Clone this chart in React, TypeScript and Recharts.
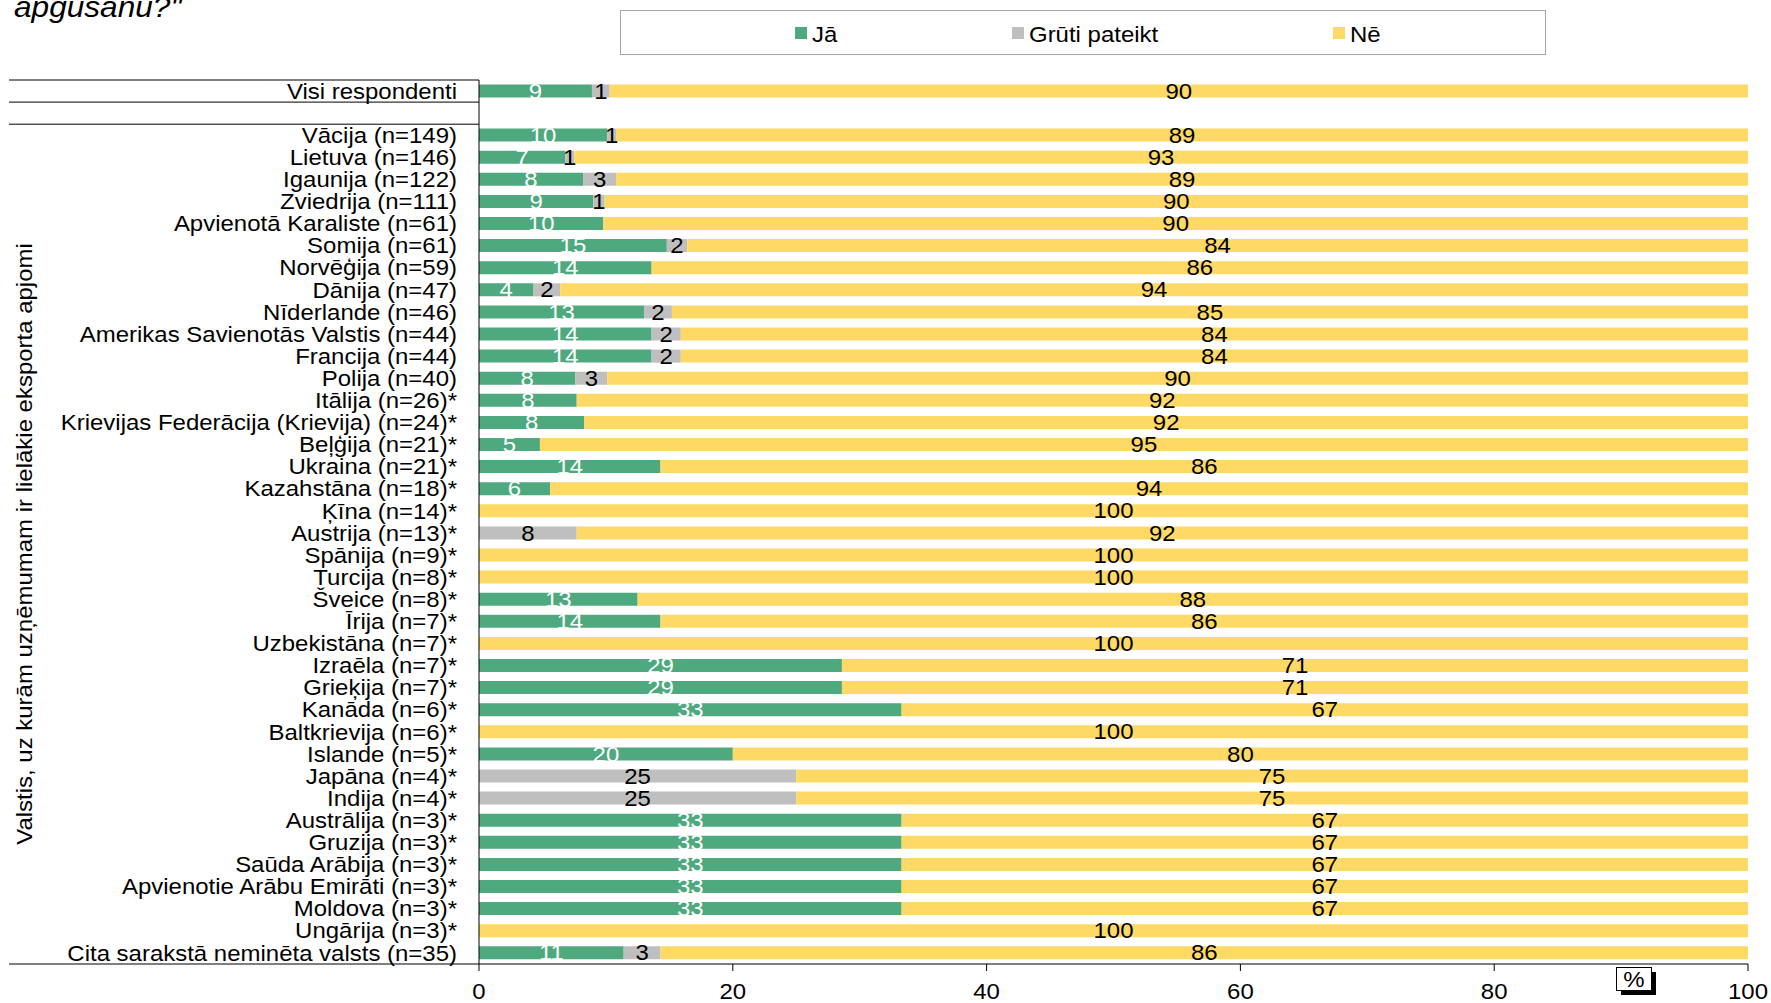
import React from 'react';
import { BarChart, Bar, XAxis, YAxis, LabelList } from 'recharts';

// rows, top to bottom; ' ' is the empty spacer row under "Visi respondenti"
const categories = [
  'Visi respondenti',
  ' ',
  'Vācija (n=149)',
  'Lietuva (n=146)',
  'Igaunija (n=122)',
  'Zviedrija (n=111)',
  'Apvienotā Karaliste (n=61)',
  'Somija (n=61)',
  'Norvēģija (n=59)',
  'Dānija (n=47)',
  'Nīderlande (n=46)',
  'Amerikas Savienotās Valstis (n=44)',
  'Francija (n=44)',
  'Polija (n=40)',
  'Itālija (n=26)*',
  'Krievijas Federācija (Krievija) (n=24)*',
  'Beļģija (n=21)*',
  'Ukraina (n=21)*',
  'Kazahstāna (n=18)*',
  'Ķīna (n=14)*',
  'Austrija (n=13)*',
  'Spānija (n=9)*',
  'Turcija (n=8)*',
  'Šveice (n=8)*',
  'Īrija (n=7)*',
  'Uzbekistāna (n=7)*',
  'Izraēla (n=7)*',
  'Grieķija (n=7)*',
  'Kanāda (n=6)*',
  'Baltkrievija (n=6)*',
  'Islande (n=5)*',
  'Japāna (n=4)*',
  'Indija (n=4)*',
  'Austrālija (n=3)*',
  'Gruzija (n=3)*',
  'Saūda Arābija (n=3)*',
  'Apvienotie Arābu Emirāti (n=3)*',
  'Moldova (n=3)*',
  'Ungārija (n=3)*',
  'Cita sarakstā neminēta valsts (n=35)',
];

const yesValues = [
  8.9, null, 10.1, 6.8, 8.2, 9.0, 9.8, 14.8, 13.6, 4.3, 13.0, 13.6, 13.6, 7.6,
  7.7, 8.3, 4.8, 14.3, 5.6, 0, 0, 0, 0, 12.5, 14.3, 0, 28.6, 28.6, 33.3, 0,
  20, 0, 0, 33.3, 33.3, 33.3, 33.3, 33.3, 0, 11.4,
];

const hardValues = [
  1.4, null, 0.7, 0.7, 2.6, 0.9, 0, 1.6, 0, 2.1, 2.2, 2.3, 2.3, 2.5,
  0, 0, 0, 0, 0, 0, 7.7, 0, 0, 0, 0, 0, 0, 0, 0, 0,
  0, 25, 25, 0, 0, 0, 0, 0, 0, 2.9,
];

const noValues = [
  89.7, null, 89.2, 92.5, 89.2, 90.1, 90.2, 83.6, 86.4, 93.6, 84.8, 84.1, 84.1, 89.9,
  92.3, 91.7, 95.2, 85.7, 94.4, 100, 92.3, 100, 100, 87.5, 85.7, 100, 71.4, 71.4, 66.7, 100,
  80, 75, 75, 66.7, 66.7, 66.7, 66.7, 66.7, 100, 85.7,
];

const xTicks = [0, 20, 40, 60, 80, 100];

const series = [
  { key: 'yes', name: 'Jā', color: '#4EA97E', text: '#FFFFFF', legendX: 795 },
  { key: 'hard', name: 'Grūti pateikt', color: '#BFBFBF', text: '#000000', legendX: 1012 },
  { key: 'no', name: 'Nē', color: '#FFD966', text: '#000000', legendX: 1333 },
];

const rows = categories.map((name, i) => ({
  name,
  yes: yesValues[i],
  hard: hardValues[i],
  no: noValues[i],
}));

const FONT = '"Liberation Sans", Arial, sans-serif';
const FS = 22;
const STRETCH = 1.09; // the source font runs a little wider than Liberation Sans
const W = 1771;
const H = 1003;
const PLOT_TOP = 80;
const PLOT_BOTTOM = 964;
const PLOT_LEFT = 479;
const PLOT_RIGHT = 1748;
const BAND = (PLOT_BOTTOM - PLOT_TOP) / categories.length;

// text widened along its baseline
const WideText = ({ x, y, rotate = 0, size = FS, children, ...rest }: any) => (
  <text
    transform={`translate(${x},${y}) rotate(${rotate}) scale(${STRETCH},1)`}
    fontSize={size}
    fontFamily={FONT}
    {...rest}
  >
    {children}
  </text>
);

const CategoryTick = (props: any) => {
  const { x, y, payload } = props;
  const label = payload.value;
  const top = y - BAND / 2;
  const bottom = y + BAND / 2;
  return (
    <g>
      <WideText x={x} y={y} textAnchor="end" dominantBaseline="central" fill="#000">
        {label}
      </WideText>
      {label === categories[0] && (
        <>
          <line x1={9} x2={PLOT_LEFT} y1={top} y2={top} stroke="#000" />
          <line x1={9} x2={PLOT_LEFT} y1={bottom} y2={bottom} stroke="#000" />
        </>
      )}
      {label === categories[1] && (
        <line x1={9} x2={PLOT_LEFT} y1={bottom} y2={bottom} stroke="#000" />
      )}
      {label === categories[categories.length - 1] && (
        <line x1={9} x2={PLOT_LEFT} y1={bottom} y2={bottom} stroke="#000" />
      )}
    </g>
  );
};

const ValueTick = (props: any) => {
  const { x, y, payload } = props;
  return (
    <WideText x={x} y={y} dy="0.71em" textAnchor="middle" fill="#000">
      {payload.value}
    </WideText>
  );
};

const segmentLabel = (color: string) => (props: any) => {
  const vb = props.viewBox || {};
  const x = props.x ?? vb.x;
  const y = props.y ?? vb.y;
  const width = props.width ?? vb.width;
  const height = props.height ?? vb.height;
  const { value } = props;
  if (value == null || value <= 0) return null;
  return (
    <WideText
      x={x + width / 2}
      y={y + height / 2}
      textAnchor="middle"
      dominantBaseline="central"
      fill={color}
    >
      {Math.round(value)}
    </WideText>
  );
};

export default function App() {
  return (
    <div style={{ position: 'absolute', left: 0, top: 0, width: W, height: H, background: '#fff' }}>
      <BarChart
        width={W}
        height={H}
        data={rows}
        layout="vertical"
        barCategoryGap="20%"
        margin={{ top: PLOT_TOP, right: W - PLOT_RIGHT, bottom: H - PLOT_BOTTOM - 30, left: 9 }}
      >
        <XAxis
          type="number"
          domain={[0, 100]}
          ticks={xTicks}
          allowDataOverflow
          height={30}
          tickSize={7}
          tickMargin={12}
          axisLine={{ stroke: '#000' }}
          tickLine={{ stroke: '#000' }}
          tick={<ValueTick />}
        />
        <YAxis
          type="category"
          dataKey="name"
          width={PLOT_LEFT - 9}
          interval={0}
          tickSize={0}
          tickMargin={22}
          tickLine={false}
          axisLine={{ stroke: '#000' }}
          tick={<CategoryTick />}
        />
        {series.map((s) => (
          <Bar key={s.key} dataKey={s.key} name={s.name} stackId="a" fill={s.color} isAnimationActive={false}>
            <LabelList dataKey={s.key} content={segmentLabel(s.text)} />
          </Bar>
        ))}
      </BarChart>

      <svg
        width={W}
        height={H}
        style={{ position: 'absolute', left: 0, top: 0, pointerEvents: 'none' }}
      >
        <WideText x={14} y={17} size={29} fontStyle="italic" fill="#000">
          apgūšanu?"
        </WideText>

        <rect x={620.5} y={10.5} width={925} height={44} fill="#fff" stroke="#A6A6A6" />
        {series.map((s) => (
          <g key={s.key}>
            <rect x={s.legendX} y={27} width={12} height={12} fill={s.color} />
            <WideText x={s.legendX + 17} y={42} fill="#000">
              {s.name}
            </WideText>
          </g>
        ))}

        <WideText
          x={24}
          y={544}
          rotate={-90}
          textAnchor="middle"
          dominantBaseline="central"
          fill="#000"
        >
          Valstis, uz kurām uzņēmumam ir lielākie eksporta apjomi
        </WideText>

        <rect x={1621} y={972} width={35} height={23} fill="#000" />
        <rect x={1616.5} y={967.5} width={35} height={23} fill="#fff" stroke="#000" />
        <WideText x={1634} y={987} textAnchor="middle" fill="#000">
          %
        </WideText>
      </svg>
    </div>
  );
}
